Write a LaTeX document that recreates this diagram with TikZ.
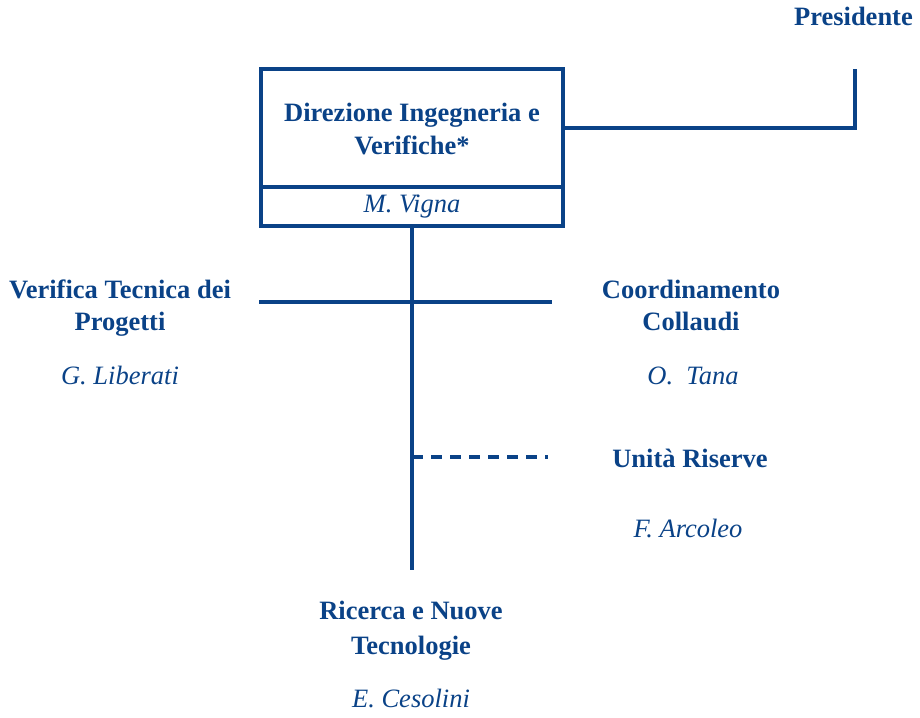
\documentclass[tikz,border=0pt]{standalone}
\usepackage{fontspec}
\setmainfont{Liberation Serif}
\definecolor{navy}{RGB}{10,66,135}
\begin{document}
\begin{tikzpicture}[x=1pt,y=-1pt,
  ln/.style={draw=navy,line width=3.2pt},
  bt/.style={text=navy,font=\fontsize{26.5}{32}\selectfont\bfseries,anchor=base,inner sep=0pt},
  it/.style={text=navy,font=\fontsize{26.5}{32}\selectfont\itshape,anchor=base,inner sep=0pt},
  boxpart/.style={draw=navy,line width=3.2pt,minimum width=302pt,inner sep=0pt,fill=white}]
\useasboundingbox (0,0) rectangle (920,717);
% connectors
\coordinate (pres) at (855,69);
\coordinate (rbottom) at (412,570);
\coordinate (hl) at (259,302);
\coordinate (hr) at (552,302);
\coordinate (dl) at (412,457);
\coordinate (dr) at (548,457);
% box
\node[boxpart,minimum height=118pt] (dirtop) at (412,128) {};
\node[boxpart,minimum height=39pt] (dirname) at (412,206.5) {};
\draw[ln] (dirtop.east) -| (pres);
\draw[ln] (dirname.south) -- (rbottom);
\draw[ln] (hl) -- (hr);
\draw[ln,dash pattern=on 11pt off 8pt] (dl) -- (dr);
% texts
\node[bt] (t1) at (412,121) {Direzione Ingegneria e};
\node[bt] (t2) at (412,154) {Verifiche*};
\node[it] (t3) at (412,212) {M. Vigna};
\node[bt,anchor=base east] (presT) at (913,26) {Presidente};
\node[bt] (v1) at (120,298) {Verifica Tecnica dei};
\node[bt] (v2) at (120,330) {Progetti};
\node[it] (v3) at (120,384) {G. Liberati};
\node[bt] (c1) at (691,298) {Coordinamento};
\node[bt] (c2) at (691,330) {Collaudi};
\node[it] (c3) at (693,384) {O.\ \ Tana};
\node[bt] (u1) at (690,467) {Unità Riserve};
\node[it] (u2) at (688,537) {F. Arcoleo};
\node[bt] (r1) at (411,619) {Ricerca e Nuove};
\node[bt] (r2) at (411,654) {Tecnologie};
\node[it] (r3) at (411,707) {E. Cesolini};
\end{tikzpicture}
\end{document}
